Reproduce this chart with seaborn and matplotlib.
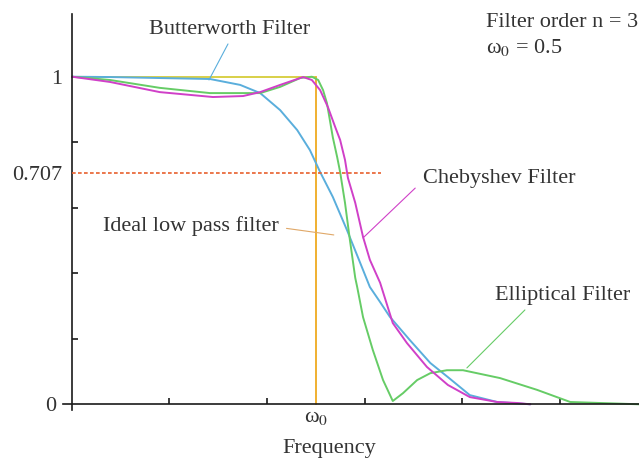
import matplotlib
matplotlib.use("Agg")
import matplotlib.pyplot as plt
import seaborn as sns
import numpy as np
import pandas as pd

# ---------------- data ----------------
ideal_x = [0.0, 0.5, 0.5]
ideal_y = [1.0, 1.0, 0.0]

butter_x = [0.0, 0.078, 0.18, 0.283, 0.345, 0.386, 0.427, 0.462, 0.488, 0.509,
            0.535, 0.564, 0.587, 0.611, 0.632, 0.652, 0.693, 0.735, 0.771, 0.816,
            0.872, 0.94]
butter_y = [1.0, 0.999, 0.996, 0.993, 0.975, 0.950, 0.898, 0.837, 0.776, 0.709,
            0.633, 0.532, 0.447, 0.358, 0.312, 0.267, 0.196, 0.126, 0.083, 0.028,
            0.007, 0.0]

cheb_x = [0.0, 0.078, 0.18, 0.289, 0.351, 0.386, 0.427, 0.474, 0.492, 0.509,
          0.525, 0.540, 0.550, 0.560, 0.566, 0.581, 0.597, 0.611, 0.632, 0.658,
          0.687, 0.728, 0.771, 0.816, 0.872, 0.913, 0.94]
cheb_y = [1.0, 0.984, 0.953, 0.938, 0.941, 0.953, 0.975, 0.999, 0.990, 0.959,
          0.907, 0.846, 0.807, 0.746, 0.691, 0.615, 0.511, 0.441, 0.371, 0.248,
          0.187, 0.114, 0.059, 0.022, 0.007, 0.004, 0.0]

ell_x = [0.0, 0.078, 0.18, 0.283, 0.351, 0.386, 0.427, 0.468, 0.492, 0.505,
         0.515, 0.523, 0.529, 0.535, 0.544, 0.550, 0.560, 0.570, 0.581, 0.585,
         0.597, 0.617, 0.638, 0.658, 0.679, 0.708, 0.735, 0.769, 0.802, 0.878,
         0.954, 1.022, 1.163]
ell_y = [1.0, 0.99, 0.966, 0.95, 0.95, 0.95, 0.969, 0.996, 1.0, 0.99,
         0.959, 0.919, 0.867, 0.815, 0.754, 0.709, 0.615, 0.502, 0.386, 0.358,
         0.266, 0.166, 0.074, 0.01, 0.034, 0.074, 0.095, 0.104, 0.104, 0.08,
         0.044, 0.007, 0.0]

half_power = 0.707
half_power_x_end = 0.634
omega0 = 0.5

x_major_ticks = [0.2, 0.4, 0.6, 0.8, 1.0]
y_major_ticks = [0.2, 0.4, 0.6, 0.8]
y_label_ticks = [0.0, half_power, 1.0]
y_label_text = ["0", "0.707", "1"]

# annotations: (text, text x, text y baseline, leader start, leader end, colour)
notes = [
    ("Butterworth Filter", 0.158, 1.129, (0.32, 1.100), (0.281, 0.990), "#5aaedc"),
    ("Chebyshev Filter", 0.72, 0.676, (0.704, 0.660), (0.597, 0.508), "#d040c8"),
    ("Ideal low pass filter", 0.063, 0.528, (0.440, 0.537), (0.537, 0.517), "#e0a868"),
    ("Elliptical Filter", 0.868, 0.318, (0.929, 0.288), (0.810, 0.111), "#66cc66"),
]

# ---------------- style ----------------
sns.set_theme(style="white")
plt.rcParams["font.family"] = ["Liberation Serif", "DejaVu Serif"]
plt.rcParams["mathtext.fontset"] = "stix"
plt.rcParams["font.size"] = 16
TXT = "#333333"

fig = plt.figure(figsize=(6.39, 4.58), dpi=100)
ax = fig.add_axes([0.0989, 0.1044, 0.9011, 0.864])

c_blue = "#5aaedc"
c_mag = "#d040c8"
c_green = "#66cc66"
c_yel = "#d8d048"
c_orange = "#f0b030"
c_red = "#e8602e"

lw = 1.4
sns.lineplot(x=ideal_x[:2], y=ideal_y[:2], color=c_yel, lw=lw, ax=ax,
             estimator=None, sort=False)
sns.lineplot(x=ideal_x[1:], y=ideal_y[1:], color=c_orange, lw=lw, ax=ax,
             estimator=None, sort=False)
sns.lineplot(x=butter_x, y=butter_y, color=c_blue, lw=lw, ax=ax,
             estimator=None, sort=False)
sns.lineplot(x=ell_x, y=ell_y, color=c_green, lw=lw, ax=ax,
             estimator=None, sort=False)
sns.lineplot(x=cheb_x, y=cheb_y, color=c_mag, lw=lw, ax=ax,
             estimator=None, sort=False)

ax.hlines(half_power, 0, half_power_x_end, color=c_red, lw=1.2,
          linestyles=(0, (2.2, 1.4)), zorder=3)

# annotations
for txt, tx, ty, (x0, y0), (x1, y1), col in notes:
    ax.text(tx, ty, txt, color=TXT, fontsize=16, ha="left", va="baseline")
    ax.plot([x0, x1], [y0, y1], color=col, lw=0.8)

ax.text(0.849, 1.151, "Filter order n = 3", color=TXT, fontsize=16,
        ha="left", va="baseline")
ax.text(0.849, 1.071, "ω$_0$ = 0.5", color=TXT, fontsize=16,
        ha="left", va="baseline")

# axes
ax.set_xlim(-0.018, 1.163)
ax.set_ylim(-0.018, 1.19)
for s in ["top", "right"]:
    ax.spines[s].set_visible(False)
for s in ["left", "bottom"]:
    ax.spines[s].set_position(("data", 0))
    ax.spines[s].set_color("#1a1a1a")
    ax.spines[s].set_linewidth(1.2)

ax.set_xticks(x_major_ticks)
ax.set_xticklabels([""] * len(x_major_ticks))
ax.set_xticks([omega0], minor=True)
ax.set_xticklabels(["ω$_0$"], minor=True)
ax.set_yticks(y_major_ticks)
ax.set_yticklabels([""] * len(y_major_ticks))
ax.set_yticks(y_label_ticks, minor=True)
ax.set_yticklabels(y_label_text, minor=True)

ax.tick_params(which="both", bottom=True, left=True, top=False, right=False)
ax.tick_params(which="major", direction="in", length=4.5, width=1.2,
               color="#1a1a1a")
ax.tick_params(axis="x", which="minor", length=0, pad=3, labelsize=16,
               labelcolor=TXT)
ax.tick_params(axis="y", which="minor", length=0, pad=7, labelsize=16,
               labelcolor=TXT)
ax.yaxis.get_minor_ticks()[0].set_pad(11)

ax.set_xlabel("Frequency", color=TXT, fontsize=16)
ax.xaxis.set_label_coords(0.4625, -0.108)
ax.xaxis.label.set_va("baseline")
ax.set_ylabel("")

fig.savefig("out.png", dpi=100)
